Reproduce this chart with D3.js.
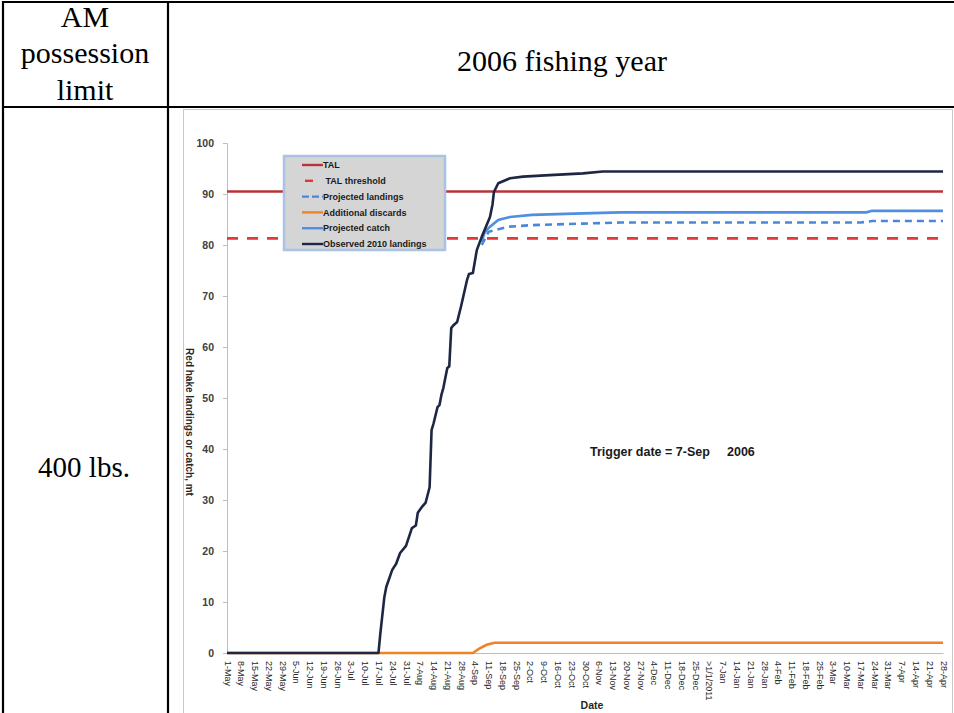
<!DOCTYPE html>
<html>
<head>
<meta charset="utf-8">
<script src="https://cdn.jsdelivr.net/npm/d3@7/dist/d3.min.js"></script>
<style>
  html, body { margin: 0; padding: 0; background: #fff; }
  svg { display: block; }
</style>
</head>
<body>
<svg id="chart" width="954" height="713"></svg>
<script>
// ---------------- DATA ----------------
const xLabels = ["1-May","8-May","15-May","22-May","29-May","5-Jun","12-Jun","19-Jun","26-Jun",
  "3-Jul","10-Jul","17-Jul","24-Jul","31-Jul","7-Aug","14-Aug","21-Aug","28-Aug",
  "4-Sep","11-Sep","18-Sep","25-Sep","2-Oct","9-Oct","16-Oct","23-Oct","30-Oct",
  "6-Nov","13-Nov","20-Nov","27-Nov","4-Dec","11-Dec","18-Dec","25-Dec",">1/1/2011",
  "7-Jan","14-Jan","21-Jan","28-Jan","4-Feb","11-Feb","18-Feb","25-Feb",
  "3-Mar","10-Mar","17-Mar","24-Mar","31-Mar","7-Apr","14-Apr","21-Apr","28-Apr"];
const yTicks = [0,10,20,30,40,50,60,70,80,90,100];
const talValue = 90.5;
const talThresholdValue = 81.3;
// [day of fishing year, mt]
const observedLandings = [[0,0],[77,0],[78,4],[80,11],[81,13],[84,16.3],[86,17.5],[88,19.6],[91,21],
  [94,24.5],[96,25],[97,27.5],[99,28.6],[101,29.5],[103,32.5],[104,43.7],[105,45],[107,48.2],
  [108,48.6],[109,50.6],[110,52],[112,55.9],[113,56.2],[114,63.7],[115,64.2],[117,64.9],
  [119,68],[122,73.1],[123,74.3],[125,74.5],[127,79],[129.5,81.6],[131,83],[133.7,85.5],
  [135,88],[135.7,90.4],[137.9,92.1],[143.9,93.1],[150.5,93.4],[164,93.7],[181,94.05],
  [191,94.4],[364,94.4]];
const projectedLandings = [[129.5,80],[133,82.6],[140,83.3],[143.9,83.6],[155,83.9],[181,84.2],
  [200,84.4],[322,84.4],[328,84.7],[364,84.7]];
const projectedCatch = [[129.5,80.6],[131,82.5],[133.7,83.6],[137.9,84.9],[143.9,85.5],[155,85.9],
  [181,86.2],[200,86.4],[325,86.4],[328,86.7],[364,86.7]];
const additionalDiscards = [[0,0],[125,0],[128,0.8],[132,1.6],[136,2.0],[364,2.0]];
const legendItems = ["TAL"," TAL threshold","Projected landings","Additional discards","Projected catch","Observed 2010 landings"];

// ---------------- DRAW ----------------
const svg = d3.select("#chart");
const serif = "'Liberation Serif','Times New Roman',serif";
const sans = "'Liberation Sans',Arial,sans-serif";

// chart image frame
svg.append("rect").attr("x",183.5).attr("y",109.5).attr("width",769).attr("height",610)
  .attr("fill","#fff").attr("stroke","#c9c9c9").attr("stroke-width",1);

// table rules
const tbl = svg.append("g").attr("stroke","#000").attr("stroke-width",2.2);
tbl.append("line").attr("x1",2).attr("x2",954).attr("y1",2).attr("y2",2);
tbl.append("line").attr("x1",3).attr("x2",3).attr("y1",1).attr("y2",713);
tbl.append("line").attr("x1",168).attr("x2",168).attr("y1",1).attr("y2",713);
tbl.append("line").attr("x1",2).attr("x2",954).attr("y1",107).attr("y2",107);

const hdr = svg.append("g").attr("font-family",serif).attr("font-size",30).attr("fill","#000")
  .attr("text-anchor","middle");
hdr.append("text").attr("x",85).attr("y",27).text("AM");
hdr.append("text").attr("x",85).attr("y",63).text("possession");
hdr.append("text").attr("x",85).attr("y",100).text("limit");
hdr.append("text").attr("x",562).attr("y",71).text("2006 fishing year");
hdr.append("text").attr("x",84).attr("y",477).attr("font-size",29).text("400 lbs.");

// scales
const x = d3.scaleLinear().domain([0,364]).range([227,943]);
const y = d3.scaleLinear().domain([0,100]).range([653,143]);

// y axis
const yAxis = svg.append("g").attr("transform","translate(227,0)")
  .call(d3.axisLeft(y).tickValues(yTicks).tickSize(4).tickPadding(9));
yAxis.select(".domain").attr("stroke","#bdbdbd");
yAxis.selectAll(".tick line").attr("stroke","#bdbdbd");
yAxis.selectAll(".tick text").attr("font-family",sans).attr("font-size",10.5).attr("font-weight","bold")
  .attr("fill","#404040");

// x axis
const xAxis = svg.append("g").attr("transform","translate(0,653)")
  .call(d3.axisBottom(x).tickValues(d3.range(0,365,7)).tickSize(0)
    .tickFormat(d => xLabels[Math.round(d/7)]));
xAxis.select(".domain").attr("stroke","#bdbdbd");
xAxis.selectAll(".tick text")
  .attr("font-family",sans).attr("font-size",9).attr("fill","#262626")
  .attr("text-anchor","start").attr("dy","0.33em")
  .attr("transform","translate(0,8) rotate(90)")
  .attr("x",0).attr("y",0);

// axis titles
svg.append("text").attr("transform","translate(186,422) rotate(90)")
  .attr("text-anchor","middle").attr("font-family",sans).attr("font-size",10)
  .attr("font-weight","bold").attr("fill","#262626").text("Red hake landings or catch, mt");
svg.append("text").attr("x",592).attr("y",709).attr("text-anchor","middle")
  .attr("font-family",sans).attr("font-size",10.5).attr("font-weight","bold").attr("fill","#262626")
  .text("Date");

// series
const line = d3.line().x(d => x(d[0])).y(d => y(d[1]));
const colors = {
  tal: "#b8343c", thr: "#e0393a", projL: "#4a87da", disc: "#ee8327", projC: "#4f8fe2", obs: "#1d2743"
};
svg.append("path").datum([[0,talValue],[364,talValue]]).attr("d",line)
  .attr("fill","none").attr("stroke",colors.tal).attr("stroke-width",2.6);
svg.append("path").datum([[0,talThresholdValue],[364,talThresholdValue]]).attr("d",line)
  .attr("fill","none").attr("stroke",colors.thr).attr("stroke-width",2.6).attr("stroke-dasharray","11,9");
svg.append("path").datum(additionalDiscards).attr("d",line)
  .attr("fill","none").attr("stroke",colors.disc).attr("stroke-width",2.6);
svg.append("path").datum(projectedLandings).attr("d",line)
  .attr("fill","none").attr("stroke",colors.projL).attr("stroke-width",2.6).attr("stroke-dasharray","7,5");
svg.append("path").datum(projectedCatch).attr("d",line)
  .attr("fill","none").attr("stroke",colors.projC).attr("stroke-width",2.6);
svg.append("path").datum(observedLandings).attr("d",line)
  .attr("fill","none").attr("stroke",colors.obs).attr("stroke-width",2.6).attr("stroke-linejoin","round");

// trigger annotation
const trig = svg.append("g").attr("font-family",sans).attr("font-size",12.5).attr("font-weight","bold")
  .attr("fill","#1a1a1a");
trig.append("text").attr("x",590).attr("y",456).text("Trigger date = 7-Sep");
trig.append("text").attr("x",727).attr("y",456).text("2006");

// legend
const lg = svg.append("g");
lg.append("rect").attr("x",284).attr("y",156).attr("width",161).attr("height",94)
  .attr("fill","#d5d5d5").attr("stroke","#a9c3e4").attr("stroke-width",2.5);
const legendStyles = [
  {c:colors.tal, dash:null, x1:302, x2:323},
  {c:colors.thr, dash:null, x1:305, x2:313},
  {c:colors.projL, dash:"7,3", x1:302, x2:323},
  {c:colors.disc, dash:null, x1:302, x2:323},
  {c:colors.projC, dash:null, x1:302, x2:323},
  {c:colors.obs, dash:null, x1:302, x2:323}
];
const legY = d3.scalePoint().domain(legendItems).range([165,244]);
legendItems.forEach((name,i) => {
  const s = legendStyles[i];
  lg.append("line").attr("x1",s.x1).attr("x2",s.x2).attr("y1",legY(name)).attr("y2",legY(name))
    .attr("stroke",s.c).attr("stroke-width",2.4).attr("stroke-dasharray",s.dash);
  lg.append("text").attr("x",323).attr("y",legY(name)).attr("dy","0.35em")
    .attr("font-family",sans).attr("font-size",9).attr("font-weight","bold").attr("fill","#1a1a1a")
    .style("white-space","pre").text(name);
});
</script>
</body>
</html>
